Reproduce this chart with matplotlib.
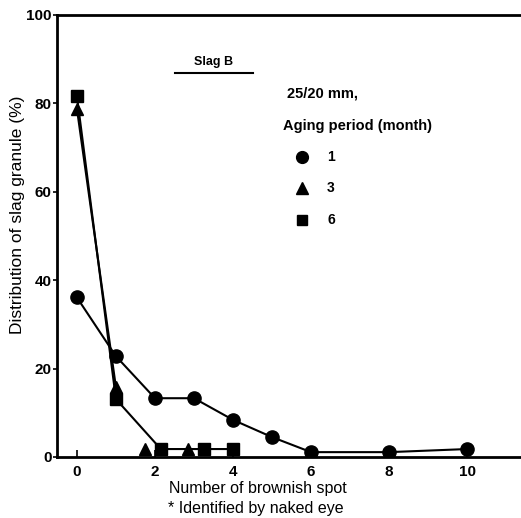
import matplotlib
matplotlib.use("Agg")
import matplotlib.pyplot as plt

plt.rcParams['font.family'] = ['Liberation Sans', 'DejaVu Sans']

# data
x_m1 = [0, 1, 2, 3, 4, 5, 6, 8, 10]
y_m1 = [36.1, 22.8, 13.3, 13.3, 8.4, 4.5, 1.1, 1.1, 1.8]

x_m3_line = [0, 1]
y_m3_line = [78.8, 15.8]
x_m3_pts = [1.75, 2.85]
y_m3_pts = [1.8, 1.8]

x_m6 = [0, 1, 2.15, 3.25, 4.0]
y_m6 = [81.7, 13.1, 1.8, 1.8, 1.8]

xticks = [0, 2, 4, 6, 8, 10]
yticks = [0, 20, 40, 60, 80, 100]

fig = plt.figure(figsize=(5.21, 5.18), dpi=100)
ax = fig.add_axes([57/521, 61/518, 1 - 57/521, (457-15)/518])

lw = 1.5
ax.plot(x_m1, y_m1, color='black', lw=lw, marker='o', ms=9.5, zorder=3)
ax.plot(x_m3_line, y_m3_line, color='black', lw=lw, marker='^', ms=9, zorder=3)
ax.plot(x_m3_pts, y_m3_pts, color='black', lw=0, marker='^', ms=9, zorder=3)
ax.plot(x_m6, y_m6, color='black', lw=lw, marker='s', ms=8, zorder=3)

ax.set_xlim(-0.51, 11.38)
ax.set_ylim(0, 100)
ax.set_xticks(xticks)
ax.set_yticks(yticks)
ax.tick_params(axis='x', direction='in', length=5, width=1.2, labelsize=11, pad=6)
ax.tick_params(axis='y', direction='out', length=3, width=1.2, labelsize=11, pad=1)
for lab in ax.get_xticklabels() + ax.get_yticklabels():
    lab.set_fontweight('bold')
for s in ['left', 'bottom', 'top']:
    ax.spines[s].set_linewidth(2)
ax.spines['right'].set_visible(False)

def px(x, y):
    return x / 521, 1 - y / 518

fig.text(*px(18, 215), 'Distribution of slag granule (%)', rotation=90,
         ha='center', va='center', fontsize=12.5)
fig.text(*px(258, 489), 'Number of brownish spot', ha='center', va='center', fontsize=11.5)
fig.text(*px(256, 508), '* Identified by naked eye', ha='center', va='center', fontsize=11.5)

# annotations
fig.text(*px(214, 62), 'Slag B', ha='center', va='center', fontsize=9, fontweight='bold')
fig.add_artist(plt.Line2D([175/521, 253/521], [1 - 73/518, 1 - 73/518], color='black', lw=1.5))
fig.text(*px(287, 94), '25/20 mm,', ha='left', va='center', fontsize=10.5, fontweight='bold')
fig.text(*px(283, 126), 'Aging period (month)', ha='left', va='center', fontsize=10.5, fontweight='bold')

leg_markers = ['o', '^', 's']
leg_labels = ['1', '3', '6']
leg_y = [157, 188, 220]
leg_ms = [8.5, 8.5, 7.5]
for m, l, yy, ms in zip(leg_markers, leg_labels, leg_y, leg_ms):
    fig.add_artist(plt.Line2D([302/521], [1 - yy/518], marker=m, color='black', ms=ms, lw=0))
    fig.text(*px(327, yy), l, ha='left', va='center', fontsize=10, fontweight='bold')

fig.savefig('out.png', dpi=100)
